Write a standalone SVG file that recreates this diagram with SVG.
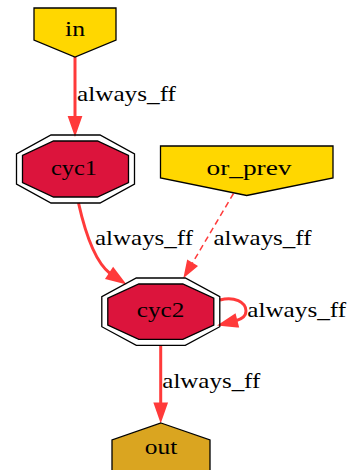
<svg xmlns="http://www.w3.org/2000/svg" width="349" height="470" viewBox="0 0 349 470">
  <style>
    .node { stroke: #000; stroke-width: 1.3; }
    .gold { fill: #ffd700; }
    .crimson { fill: #dc143c; }
    .goldenrod { fill: #daa520; }
    .ring { fill: none; }
    text { font-family: "Liberation Serif", "Times New Roman", serif; font-size: 21px; fill: #000; text-anchor: middle; }
    .edge { fill: none; stroke: #ff3a3a; stroke-width: 3; }
    .dashed { fill: none; stroke: #ff3a3a; stroke-width: 1.5; stroke-dasharray: 6 4; }
    .head { fill: #ff3a3a; stroke: #ff3a3a; stroke-width: 3; }
    .head-thin { fill: #ff3a3a; stroke: #ff3a3a; stroke-width: 1.5; }
  </style>

  <!-- connectors -->
  <g id="edges">
    <g id="edge-in-cyc1">
      <path class="edge" d="M75,57 L75,117.5"/>
      <polygon class="head" points="69.75,117.5 75,132.5 80.25,117.5"/>
      <text x="126.5" y="101" textLength="99" lengthAdjust="spacingAndGlyphs">always_ff</text>
    </g>
    <g id="edge-cyc1-cyc2">
      <path class="edge" d="M78.5,203 C85,232 95,262 110.3,273.7"/>
      <polygon class="head" points="107.4,278.1 122.8,282 113.2,269.3"/>
      <text x="144" y="245" textLength="98" lengthAdjust="spacingAndGlyphs">always_ff</text>
    </g>
    <g id="edge-or_prev-cyc2">
      <path class="dashed" d="M233.5,193.5 L192.2,263.4"/>
      <polygon class="head-thin" points="196.7,266.1 184.5,276.3 187.7,260.7"/>
      <text x="262.5" y="245" textLength="98" lengthAdjust="spacingAndGlyphs">always_ff</text>
    </g>
    <g id="edge-cyc2-cyc2">
      <path class="edge" d="M220,300 C234,296 246,302 246,311 C246,316 242,319 235.9,320.8"/>
      <polygon class="head" points="237.2,325.9 221.4,324.4 234.6,315.7"/>
      <text x="296.7" y="316.7" textLength="99" lengthAdjust="spacingAndGlyphs">always_ff</text>
    </g>
    <g id="edge-cyc2-out">
      <path class="edge" d="M160.7,345 L160.7,404"/>
      <polygon class="head" points="155.45,404 160.7,419 165.95,404"/>
      <text x="211.3" y="388.3" textLength="98" lengthAdjust="spacingAndGlyphs">always_ff</text>
    </g>
  </g>

  <!-- nodes -->
  <g id="in">
    <polygon class="node gold" points="34,8 116,8 116,40 75,57 34,40"/>
    <text x="75" y="36" textLength="20" lengthAdjust="spacingAndGlyphs">in</text>
  </g>

  <g id="cyc1">
    <polygon class="node ring" points="51,135 100,135 134.5,154 134.5,184 100,203 51,203 16.5,184 16.5,154"/>
    <polygon class="node crimson" points="53.5,141 97.5,141 128.5,155.5 128.5,182.5 97.5,197 53.5,197 22.5,182.5 22.5,155.5"/>
    <text x="74" y="175" textLength="46" lengthAdjust="spacingAndGlyphs">cyc1</text>
  </g>

  <g id="or_prev">
    <polygon class="node gold" points="160.5,146 333,146 333,178 246.7,195.5 160.5,178"/>
    <text x="249" y="175" textLength="85" lengthAdjust="spacingAndGlyphs">or_prev</text>
  </g>

  <g id="cyc2">
    <polygon class="node ring" points="136.3,278 185.3,278 219.8,296.7 219.8,326.7 185.3,345.4 136.3,345.4 101.8,326.7 101.8,296.7"/>
    <polygon class="node crimson" points="138.8,284 182.8,284 213.8,298.2 213.8,325.2 182.8,339.4 138.8,339.4 107.8,325.2 107.8,298.2"/>
    <text x="160.5" y="316.7" textLength="47.5" lengthAdjust="spacingAndGlyphs">cyc2</text>
  </g>

  <g id="out">
    <polygon class="node goldenrod" points="161,423 210,440 210,480 112,480 112,440"/>
    <text x="161" y="454.3" textLength="32.5" lengthAdjust="spacingAndGlyphs">out</text>
  </g>
</svg>
